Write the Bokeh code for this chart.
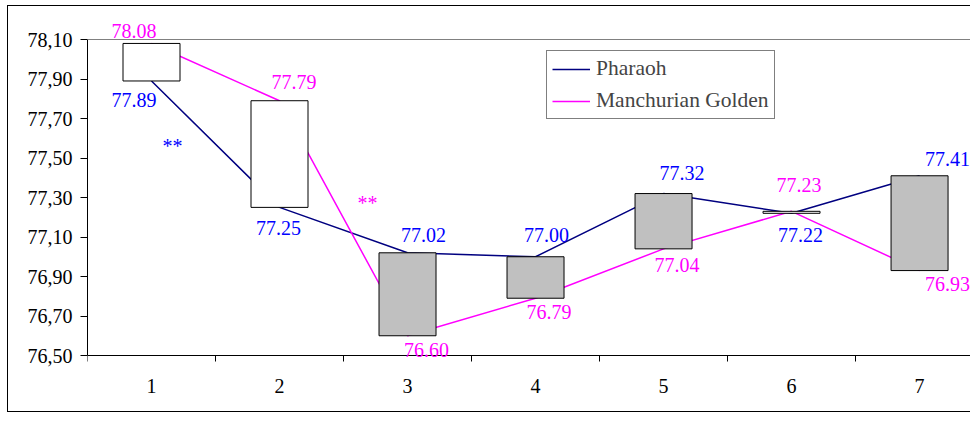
from bokeh.plotting import figure
from bokeh.models import (ColumnDataSource, FixedTicker, Span, Legend, LegendItem, Label,
                          LinearAxis)
from bokeh.core.properties import value
from bokeh.embed import file_html
from bokeh.resources import INLINE

# ---- data ----
categories = [1, 2, 3, 4, 5, 6, 7]
pharaoh = [77.89, 77.25, 77.02, 77.00, 77.32, 77.22, 77.41]
manchurian = [78.08, 77.79, 76.60, 76.79, 77.04, 77.23, 76.93]
y_ticks = [76.5, 76.7, 76.9, 77.1, 77.3, 77.5, 77.7, 77.9, 78.1]
y_tick_labels = ["76,50", "76,70", "76,90", "77,10", "77,30", "77,50", "77,70", "77,90", "78,10"]
series_names = ["Pharaoh", "Manchurian Golden"]
y_min, y_max = 76.5, 78.1

# label offsets in screen px (layout only; positive dy = down on screen)
ph_dx = [-17.5, -1, 16, 11, 18.5, 9, 28]
ph_dy = [19, 20.6, -17.8, -21.8, -20.6, 21.7, -16.8]
mg_dx = [-17.5, 14.5, 19, 13.5, 13.5, 7.5, 28]
mg_dy = [-12, -18.3, 14.5, 14, 16.4, -26.3, 13]

FONT = "Liberation Serif"
FS = "20px"
FS_LEG = "21.5px"
NAVY = "#000080"
MAG = "#FF00FF"
BLUE = "#0000FF"

W, H = 970, 413
TOP, BOTTOM = 0, 50          # borders around the (transparent) frame
PX_PER_UNIT = 197.5          # axis scale: 0.2 units = 39.5 px
AX_TOP, AX_BOTTOM = 39, 355  # where the value axis runs on the page
y_start = y_min - ((H - BOTTOM) - AX_BOTTOM) / PX_PER_UNIT
y_end = y_max + (AX_TOP - TOP) / PX_PER_UNIT

p = figure(width=W, height=H, output_backend="svg", toolbar_location=None,
           x_range=(0.5, 7.398), y_range=(y_start, y_end),
           min_border_left=87, min_border_right=0, min_border_top=TOP,
           min_border_bottom=BOTTOM)
g = "linear-gradient(#000,#000)"
p.styles = {"background": (f"{g} 7px 5px / 1px 407px no-repeat, "
                           f"{g} 7px 5px / 963px 1px no-repeat, "
                           f"{g} 7px 411px / 963px 1px no-repeat, white")}
p.outline_line_color = None
p.xgrid.visible = False
p.ygrid.visible = False
p.background_fill_color = None
p.border_fill_color = None

# value axis
p.yaxis.ticker = FixedTicker(ticks=y_ticks)
p.yaxis.bounds = (y_min, y_max)
p.yaxis.major_label_overrides = {t: l for t, l in zip(y_ticks, y_tick_labels)}
p.yaxis.major_tick_out = 7
p.yaxis.major_tick_in = 0
p.yaxis.minor_tick_out = 0
p.yaxis.minor_tick_in = 0
p.yaxis.major_label_standoff = 8
p.yaxis.axis_line_color = "black"
p.yaxis.major_tick_line_color = "black"
p.yaxis.major_label_text_font = FONT
p.yaxis.major_label_text_font_size = FS
p.yaxis.major_label_text_color = "black"

# category axis line + boundary ticks, drawn at the bottom of the value scale
xa = p.xaxis[0]
xa.fixed_location = y_min
xa.ticker = FixedTicker(ticks=categories,
                        minor_ticks=[c - 0.5 for c in categories] + [categories[-1] + 0.5])
xa.axis_line_color = "black"
xa.major_tick_out = 0
xa.major_tick_in = 0
xa.minor_tick_out = 6
xa.minor_tick_in = 0
xa.minor_tick_line_color = "black"
xa.major_label_standoff = 0
xa.major_label_text_font_size = "1px"
xa.major_label_text_color = None

# category labels
xl = LinearAxis(ticker=FixedTicker(ticks=categories, minor_ticks=[]),
                axis_line_color=None, major_tick_line_color=None,
                minor_tick_line_color=None, major_tick_out=0, major_tick_in=0,
                minor_tick_out=0, minor_tick_in=0, major_label_standoff=15,
                major_label_text_font=FONT, major_label_text_font_size=FS,
                major_label_text_color="black")
p.add_layout(xl, "below")

p.add_layout(Span(location=y_max, dimension="width", line_color="#808080", line_width=1))

src = ColumnDataSource(dict(
    x=categories, ph=pharaoh, mg=manchurian,
    top=[max(a, b) for a, b in zip(pharaoh, manchurian)],
    bottom=[min(a, b) for a, b in zip(pharaoh, manchurian)],
    fill=["white" if m >= ph else "#C0C0C0" for ph, m in zip(pharaoh, manchurian)],
))

r1 = p.line("x", "ph", source=src, line_color=NAVY, line_width=1.5)
r2 = p.line("x", "mg", source=src, line_color=MAG, line_width=1.5)
p.vbar(x="x", width=57 / 128, top="top", bottom="bottom", fill_color="fill",
       line_color="black", line_width=1, source=src)

# data labels
for vals, dxs, dys, col in ((pharaoh, ph_dx, ph_dy, BLUE), (manchurian, mg_dx, mg_dy, MAG)):
    for c, v, dx, dy in zip(categories, vals, dxs, dys):
        p.add_layout(Label(x=c, y=v, text=f"{v:.2f}", x_offset=dx, y_offset=-dy,
                           text_font=FONT, text_font_size=FS, text_color=col,
                           text_align="center", text_baseline="middle"))

# significance markers
p.text(x=[1.164], y=[77.563], text=["**"], text_font=value(FONT), text_font_size=FS,
       text_color=BLUE, text_align="center", text_baseline="alphabetic")
p.text(x=[2.6875], y=[77.274], text=["**"], text_font=value(FONT), text_font_size=FS,
       text_color=MAG, text_align="center", text_baseline="alphabetic")

legend = Legend(items=[LegendItem(label=series_names[0], renderers=[r1]),
                       LegendItem(label=series_names[1], renderers=[r2])],
                location=(459, 236 + (H - BOTTOM - AX_BOTTOM)), orientation="vertical",
                padding=5, spacing=7, margin=0,
                glyph_width=38, glyph_height=20, label_height=20,
                label_standoff=6,
                label_text_font=FONT, label_text_font_size=FS_LEG,
                border_line_color="black", border_line_width=1,
                background_fill_color="white", background_fill_alpha=1)
p.add_layout(legend)

open("out.html", "w").write(file_html(p, INLINE))
